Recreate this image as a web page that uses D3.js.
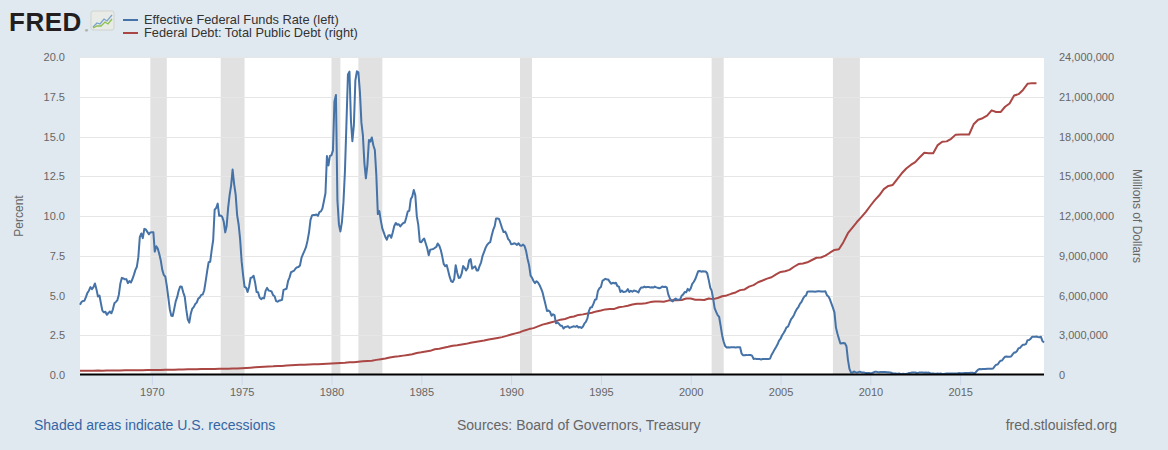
<!DOCTYPE html>
<html><head><meta charset="utf-8">
<script src="https://cdn.jsdelivr.net/npm/d3@7"></script>
<style>
html,body{margin:0;padding:0;background:#e1e9f0;}
svg{display:block;font-family:"Liberation Sans",Arial,sans-serif;}
</style></head>
<body>
<svg id="chart" width="1168" height="450"></svg>
<script>
// ---- data ----
const seriesNames = ["Effective Federal Funds Rate (left)", "Federal Debt: Total Public Debt (right)"];
const fedFundsStartYear = 1966; // monthly, from Jan 1966
const fedFunds = [
4.42,4.60,4.65,4.67,4.90,5.17,5.30,5.53,5.40,5.53,5.76,5.40,
4.94,5.00,4.53,4.05,3.94,3.98,3.79,3.90,3.99,3.88,4.13,4.51,
4.60,4.71,5.05,5.76,6.11,6.07,6.02,6.03,5.78,5.91,5.82,6.02,
6.30,6.61,6.79,7.41,8.67,8.90,8.61,9.19,9.15,9.00,8.85,8.97,
8.98,8.98,7.76,8.10,7.95,7.61,7.21,6.61,6.29,6.20,5.60,4.90,
4.14,3.72,3.71,4.16,4.63,4.91,5.31,5.57,5.55,5.20,4.91,4.14,
3.50,3.29,3.83,4.17,4.27,4.46,4.55,4.80,4.87,5.04,5.06,5.33,
5.94,6.58,7.09,7.12,7.84,8.49,10.40,10.50,10.78,10.01,10.03,9.95,
9.65,8.97,9.35,10.51,11.31,11.93,12.92,12.01,11.34,10.06,9.45,8.53,
7.13,6.24,5.54,5.49,5.22,5.55,6.10,6.14,6.24,5.82,5.22,5.20,
4.87,4.77,4.84,4.82,5.29,5.48,5.31,5.29,5.25,5.02,4.95,4.65,
4.61,4.68,4.69,4.73,5.35,5.39,5.42,5.90,6.14,6.47,6.51,6.56,
6.70,6.78,6.79,6.89,7.36,7.60,7.81,8.04,8.45,8.96,9.76,10.03,
10.07,10.06,10.09,10.01,10.24,10.29,10.47,10.94,11.43,13.77,13.18,13.78,
13.82,14.13,17.19,17.61,10.98,9.47,9.03,9.61,10.87,12.81,15.85,18.90,
19.08,15.93,14.70,15.72,18.52,19.10,19.04,17.82,15.87,15.08,13.31,12.37,
13.22,14.78,14.68,14.94,14.45,14.15,12.59,10.12,10.31,9.71,9.20,8.95,
8.68,8.51,8.77,8.80,8.63,8.98,9.37,9.56,9.45,9.48,9.34,9.47,
9.56,9.59,9.91,10.29,10.32,11.06,11.23,11.64,11.30,9.99,9.43,8.38,
8.35,8.50,8.58,8.27,7.97,7.53,7.88,7.90,7.92,7.99,8.05,8.27,
8.14,7.86,7.48,6.99,6.85,6.92,6.56,6.17,5.89,5.85,6.04,6.91,
6.43,6.10,6.13,6.37,6.85,6.73,6.58,6.73,7.22,7.29,6.69,6.77,
6.83,6.58,6.58,6.87,7.09,7.51,7.75,8.01,8.19,8.30,8.35,8.76,
9.12,9.36,9.85,9.84,9.81,9.53,9.24,8.99,9.02,8.84,8.55,8.45,
8.23,8.24,8.28,8.26,8.18,8.29,8.15,8.13,8.20,8.11,7.81,7.31,
6.91,6.25,6.12,5.91,5.78,5.90,5.82,5.66,5.45,5.21,4.81,4.43,
4.03,4.06,3.98,3.73,3.82,3.76,3.25,3.30,3.22,3.10,3.09,2.92,
3.02,3.03,3.07,2.96,3.00,3.04,3.06,3.03,3.09,2.99,3.02,2.96,
3.05,3.25,3.34,3.56,4.01,4.25,4.26,4.47,4.73,4.76,5.29,5.45,
5.53,5.92,5.98,6.05,6.01,6.00,5.85,5.74,5.80,5.76,5.80,5.60,
5.56,5.22,5.31,5.22,5.24,5.27,5.40,5.22,5.30,5.24,5.31,5.29,
5.25,5.19,5.39,5.51,5.50,5.56,5.52,5.54,5.54,5.50,5.52,5.50,
5.56,5.51,5.49,5.45,5.49,5.56,5.54,5.55,5.51,5.07,4.83,4.68,
4.63,4.76,4.81,4.74,4.74,4.76,4.99,5.07,5.22,5.20,5.42,5.30,
5.45,5.73,5.85,6.02,6.27,6.53,6.54,6.50,6.52,6.51,6.51,6.40,
5.98,5.49,5.31,4.80,4.21,3.97,3.77,3.65,3.07,2.49,2.09,1.82,
1.73,1.74,1.73,1.75,1.75,1.75,1.73,1.74,1.75,1.75,1.34,1.24,
1.24,1.26,1.25,1.26,1.26,1.22,1.01,1.03,1.01,1.01,1.00,0.98,
1.00,1.01,1.00,1.00,1.00,1.03,1.26,1.43,1.61,1.76,1.93,2.16,
2.28,2.50,2.63,2.79,3.00,3.04,3.26,3.50,3.62,3.78,4.00,4.16,
4.29,4.49,4.59,4.79,4.94,4.99,5.24,5.25,5.25,5.25,5.25,5.24,
5.25,5.26,5.26,5.25,5.25,5.25,5.26,5.02,4.94,4.76,4.49,4.24,
3.94,2.98,2.61,2.28,1.98,2.00,2.01,2.00,1.81,0.97,0.39,0.16,
0.15,0.22,0.18,0.15,0.18,0.21,0.16,0.16,0.15,0.12,0.12,0.12,
0.11,0.13,0.16,0.20,0.20,0.18,0.18,0.19,0.19,0.19,0.19,0.18,
0.17,0.16,0.14,0.10,0.09,0.09,0.07,0.10,0.08,0.07,0.08,0.07,
0.08,0.10,0.13,0.14,0.16,0.16,0.16,0.13,0.14,0.16,0.16,0.16,
0.14,0.15,0.14,0.15,0.11,0.09,0.09,0.08,0.08,0.09,0.08,0.09,
0.07,0.07,0.08,0.09,0.09,0.10,0.09,0.09,0.09,0.09,0.09,0.12,
0.11,0.11,0.11,0.12,0.12,0.13,0.13,0.14,0.14,0.12,0.12,0.24,
0.34,0.38,0.36,0.37,0.37,0.38,0.39,0.40,0.40,0.40,0.41,0.54,
0.65,0.66,0.79,0.90,0.91,1.04,1.15,1.16,1.15,1.15,1.16,1.30,
1.41,1.42,1.51,1.69,1.70,1.82,1.91,1.91,1.95,2.19,2.20,2.27,
2.40,2.40,2.41,2.42,2.39,2.38,2.40,2.13,2.04
];
const debtStartYear = 1966; // quarterly, millions of dollars, from Q1 1966
const federalDebt = [
320999,316097,324748,329319,
330947,322286,334616,344663,
347578,347389,356226,358029,
359444,353720,360215,368226,
372007,370919,381915,389158,
391734,398130,411251,424131,
427260,427751,436432,449298,
455850,458141,462000,469898,
474235,475060,481538,492665,
509687,533189,554318,576649,
599000,620433,634701,653544,
680116,685194,709138,729000,
751000,771544,780425,797000,
816000,812000,826519,845116,
863451,883000,907701,930210,
964531,971000,997855,1028729,
1061000,1079640,1142034,1197000,
1244000,1319641,1376000,1410702,
1463000,1517000,1572266,1663000,
1710000,1774000,1823103,1945000,
1986000,2059000,2125302,2214000,
2246000,2309000,2350277,2431000,
2487000,2547000,2602338,2684000,
2740000,2799000,2857431,2953000,
3052000,3143000,3233313,3364000,
3465000,3538000,3665303,3801000,
3881000,3984000,4064621,4177000,
4230000,4352000,4411489,4536000,
4575000,4645000,4692750,4800000,
4864000,4951000,4973983,4988000,
5117000,5161000,5224811,5323000,
5381000,5376000,5413146,5502000,
5542000,5547000,5526193,5614000,
5651000,5638000,5656271,5776000,
5773000,5685000,5674178,5662000,
5773700,5726000,5807463,5943000,
6006000,6126000,6228236,6405000,
6460000,6670000,6783231,6998000,
7131000,7274000,7379053,7596000,
7777000,7836000,7932710,8170000,
8371000,8420000,8506974,8680000,
8849000,8867000,9007653,9229000,
9437000,9492000,10024725,10699000,
11126000,11545000,11909829,12311000,
12773000,13201000,13561623,14025000,
14270000,14343000,14790340,15222000,
15582000,15856000,16066241,16432000,
16771000,16738000,16738184,17352000,
17601000,17632000,17824071,18141000,
18152000,18152000,18150618,18922000,
19264000,19381000,19573445,19976000,
19846000,19845000,20244900,20492000,
21089000,21195000,21516058,21974000,
22028000,22023000
];
const recessionStarts = ["1969-12-01","1973-11-01","1980-01-01","1981-07-01","1990-07-01","2001-03-01","2007-12-01"];
const recessionEnds   = ["1970-11-01","1975-03-01","1980-07-01","1982-11-01","1991-03-01","2001-11-01","2009-06-01"];
const xTickYears = [1970,1975,1980,1985,1990,1995,2000,2005,2010,2015];
const leftTicks = [0,2.5,5,7.5,10,12.5,15,17.5,20];
const rightTicks = [0,3000000,6000000,9000000,12000000,15000000,18000000,21000000,24000000];
const xDomain = ["1966-01-01","2019-09-01"];
const colors = ["#4572a7","#aa4643"];

// ---- build ----
const parse = d3.timeParse("%Y-%m-%d");
const ffData = fedFunds.map((v,i)=>({date:new Date(fedFundsStartYear + Math.floor(i/12), i%12, 1), v}));
const debtData = federalDebt.map((v,i)=>({date:new Date(debtStartYear + Math.floor(i/4), (i%4)*3, 1), v}));

const L = 80, R = 1044, T = 57, B = 375;
const x = d3.scaleTime().domain(xDomain.map(parse)).range([L, R]);
const yL = d3.scaleLinear().domain([0,20]).range([B, T]);
const yR = d3.scaleLinear().domain([0,24000000]).range([B, T]);

const svg = d3.select("#chart");
svg.append("rect").attr("x",0).attr("y",0).attr("width",1168).attr("height",450).attr("fill","#e1e9f0");
svg.append("rect").attr("x",L).attr("y",T).attr("width",R-L).attr("height",B-T).attr("fill","#ffffff");

// recessions
svg.append("g").selectAll("rect").data(recessionStarts.map((s,i)=>({s:parse(s), e:parse(recessionEnds[i])})))
  .join("rect")
  .attr("x",d=>x(d.s)).attr("y",T).attr("width",d=>x(d.e)-x(d.s)).attr("height",B-T)
  .attr("fill","#e1e1e1");

// grid
svg.append("g").selectAll("line").data(leftTicks.filter(t=>t>0))
  .join("line")
  .attr("x1",L).attr("x2",R).attr("y1",d=>Math.round(yL(d))+0.5).attr("y2",d=>Math.round(yL(d))+0.5)
  .attr("stroke","#e6e6e6").attr("stroke-width",1);

// x ticks
const gx = svg.append("g").attr("transform",`translate(0,${B})`)
  .call(d3.axisBottom(x).tickValues(xTickYears.map(y=>new Date(y,0,1))).tickFormat(d3.timeFormat("%Y")).tickSize(10).tickPadding(3));
gx.select(".domain").remove();
gx.selectAll(".tick line").attr("stroke","#ccd6eb");
gx.selectAll(".tick text").attr("fill","#666666").style("font-size","11px").style("font-family","'Liberation Sans',Arial,sans-serif");

// left axis
const gl = svg.append("g").attr("transform",`translate(${L},0)`)
  .call(d3.axisLeft(yL).tickValues(leftTicks).tickFormat(d3.format(".1f")).tickSize(0).tickPadding(15));
gl.select(".domain").remove();
gl.selectAll(".tick text").attr("fill","#666666").style("font-size","11px").style("font-family","'Liberation Sans',Arial,sans-serif");

// right axis
const gr = svg.append("g").attr("transform",`translate(${R},0)`)
  .call(d3.axisRight(yR).tickValues(rightTicks).tickFormat(d3.format(",")).tickSize(0).tickPadding(15));
gr.select(".domain").remove();
gr.selectAll(".tick text").attr("fill","#666666").style("font-size","11px").style("font-family","'Liberation Sans',Arial,sans-serif");

// axis titles
svg.append("text").attr("transform","translate(23,216) rotate(-90)").attr("text-anchor","middle")
  .attr("fill","#666666").style("font-size","12px").text("Percent");
svg.append("text").attr("transform","translate(1133,216) rotate(90)").attr("text-anchor","middle")
  .attr("fill","#666666").style("font-size","12px").text("Millions of Dollars");

// lines
const lineFF = d3.line().x(d=>x(d.date)).y(d=>yL(d.v));
const lineDebt = d3.line().x(d=>x(d.date)).y(d=>yR(d.v));
svg.append("path").datum(debtData).attr("d",lineDebt).attr("fill","none").attr("stroke",colors[1]).attr("stroke-width",2).attr("stroke-linejoin","round");
svg.append("path").datum(ffData).attr("d",lineFF).attr("fill","none").attr("stroke",colors[0]).attr("stroke-width",2).attr("stroke-linejoin","round");

// bottom axis line
svg.append("line").attr("x1",L).attr("x2",R).attr("y1",B-0.5).attr("y2",B-0.5).attr("stroke","#000").attr("stroke-width",2);

// FRED logo
svg.append("text").attr("x",9).attr("y",31).attr("fill","#231f20").style("font-size","26px").style("font-weight","bold")
  .style("letter-spacing","0.5px").text("FRED");
svg.append("text").attr("x",85).attr("y",32).attr("fill","#231f20").style("font-size","4px").text("®");
const icon = svg.append("g").attr("transform","translate(91,11)");
icon.append("rect").attr("width",23).attr("height",19).attr("rx",2).attr("fill","#e8ebe6").attr("stroke","#d0d4cf");
icon.append("polyline").attr("points","2,16 6,12 9,13 13,8 16,10 21,4").attr("fill","none").attr("stroke","#7aa3cf").attr("stroke-width",1.3);
icon.append("polyline").attr("points","2,17 6,15 10,15 14,11 17,13 21,8").attr("fill","none").attr("stroke","#8cbf4e").attr("stroke-width",1.3);

// legend
const leg = svg.append("g");
seriesNames.forEach((n,i)=>{
  const yy = 20 + i*13;
  leg.append("line").attr("x1",123).attr("x2",138).attr("y1",yy).attr("y2",yy).attr("stroke",colors[i]).attr("stroke-width",2);
  leg.append("text").attr("x",144).attr("y",yy+4.3).attr("fill","#333333").style("font-size","12.8px").text(n);
});

// footer
svg.append("text").attr("x",34).attr("y",430).attr("fill","#3465a4").style("font-size","14px").text("Shaded areas indicate U.S. recessions");
svg.append("text").attr("x",457).attr("y",430).attr("fill","#666666").style("font-size","14px").text("Sources: Board of Governors, Treasury");
svg.append("text").attr("x",1117).attr("y",430).attr("text-anchor","end").attr("fill","#666666").style("font-size","14px").text("fred.stlouisfed.org");
</script>
</body></html>
